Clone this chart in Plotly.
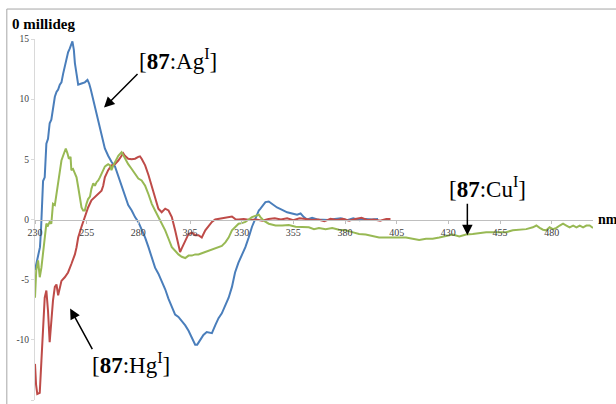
import plotly.graph_objects as go

# ---- data (wavelength nm, ellipticity millideg) ----
ag_nm = [230, 231, 232.4, 232.9, 233.4, 233.9, 234.7, 235.5, 236.3, 237.1, 237.9, 238.7, 239.6, 240.4,
         241.2, 242, 242.8, 243.6, 244.4, 245.2, 246, 246.8, 247.6, 248.1, 248.8, 249.3, 250.1, 250.9,
         252.5, 254.1, 255.4, 256.2, 257, 258.2, 259, 259.8, 260.6, 261.4, 262.2, 263, 263.8, 265.4,
         267, 268.7, 270.3, 271.9, 273.5, 275.1, 276.8, 278.4, 280, 281.6, 283.3, 284.9, 286.5, 288.1,
         289.7, 291.3, 293, 294.6, 296.2, 297.8, 299.4, 301, 302.7, 304.3, 305.9, 307.5, 308.5, 309.3,
         311.5, 313.1, 315.6, 317.2, 318.8, 320.4, 322, 323.7, 325.3, 326.8, 328.4, 330.1, 331.8, 333.4,
         335, 336.6, 338.3, 339.1, 341.5, 343.1, 344.7, 347.1, 349.6, 352, 354.4, 356.8, 358.5, 360.1,
         361.7, 364.1, 366.6, 369, 372, 375, 378, 381, 384, 387, 390, 393, 396]
ag_val = [-4.2, -3.3, -2.3, -0.9, 0.7, 3.2, 3.5, 6.3, 6.7, 8.0, 8.3, 9.4, 10.2, 10.6,
          10.8, 11.2, 11.4, 12.1, 12.7, 13.3, 13.9, 14.2, 14.6, 14.8, 14.1, 13.0, 12.1, 11.2,
          11.3, 11.4, 11.6, 11.3, 10.8, 9.9, 9.4, 8.9, 8.3, 7.6, 7.1, 6.4, 5.9, 5.3,
          4.8, 4.4, 3.6, 2.9, 2.0, 1.2, 0.75, 0.2, -0.2, -0.8, -1.5, -2.3, -3.1, -4.0,
          -4.5, -5.1, -5.8, -6.6, -7.3, -7.9, -8.1, -8.4, -8.8, -9.25, -9.8, -10.4, -10.4, -10.2,
          -9.6, -9.35, -9.45, -8.8, -8.2, -7.8, -7.2, -6.5, -5.6, -4.4, -3.6, -3.0, -2.3, -1.5,
          -0.6, 0.05, 0.75, 0.9, 1.45, 1.5, 1.3, 1.0, 0.8, 0.6, 0.5, 0.4, 0.5, 0.2,
          0.0, 0.15, 0.0, 0.0, -0.05, 0.05, 0.1, -0.05, 0.1, -0.05, 0.05, 0.0, 0.05]

hg_nm = [230, 230.5, 231.1, 232.3, 233.1, 233.9, 234.7, 235.5, 236.3, 237.1, 237.9, 238.7, 239.6, 240.4,
         241.2, 242, 242.8, 244.4, 246, 247.6, 249.3, 250.1, 250.9, 252.5, 254.1, 255.7, 257.3, 259,
         260.6, 262.2, 263, 263.8, 265.4, 267, 268.7, 270.3, 271.9, 272.7, 273.5, 275.1, 276.8, 278.4,
         280, 280.8, 281.6, 283.3, 284.9, 286.5, 288.1, 289.7, 291.3, 293, 294.6, 296.2, 297.8, 299.4,
         300.2, 301, 302.7, 304.3, 305.9, 307.5, 309.1, 310.7, 312.4, 314, 315.6, 317.2, 318.8, 320.4,
         322.1, 323.7, 325.3, 326.9, 328.5, 331, 334, 337, 340, 343, 346, 349, 352, 355, 358, 361, 364,
         367, 370, 373, 376, 379, 382, 385, 388, 391, 394, 397, 400, 402]
hg_val = [-12.0, -13.7, -14.5, -14.4, -11.75, -8.4, -6.5, -5.9, -7.6, -10.2, -8.4, -6.75, -5.6, -5.4,
          -6.3, -5.6, -5.1, -4.8, -4.4, -3.7, -2.9, -2.3, -1.5, -0.6, 0.2, 1.0, 1.6, 1.9,
          2.1, 2.4, 2.8, 3.5, 4.1, 4.5, 4.6, 4.9, 5.3, 5.5, 5.3, 5.05, 5.0, 5.05,
          5.2, 5.25, 5.05, 4.5, 3.7, 2.7, 1.7, 0.9, 0.6, 0.9, 0.75, 0.2, -0.9, -2.0,
          -2.7, -2.4, -1.75, -1.2, -1.1, -1.3, -1.3, -1.5, -0.9, -0.5, -0.2, 0.0, 0.05, 0.15,
          0.2, 0.25, 0.25, 0.03, 0.0, 0.05, -0.05, 0.0, -0.1, 0.05, 0.1, 0.0, 0.1, -0.05, 0.1, 0.05, -0.05,
          0.0, -0.15, 0.05, -0.05, 0.05, -0.1, 0.05, 0.15, -0.05, 0.0, -0.1, 0.05, 0.05]

cu_nm = [230, 230.6, 231.5, 232.3, 233.1, 233.9, 234.7, 235.5, 236.3, 237.1, 237.9, 238.3, 238.7, 239.6,
         240.4, 241.2, 242, 242.8, 243.6, 244.4, 244.9, 245.7, 246.4, 247.2, 247.6, 248.4, 249.3, 250.1,
         250.9, 251.7, 252.5, 253.3, 254.1, 254.9, 255.7, 256.6, 257.3, 258.2, 259, 259.8, 260.6, 261.4,
         262.2, 263, 263.8, 264.6, 265.4, 266.3, 267, 267.9, 268.7, 269.5, 270.3, 271.9, 273.5, 275.1,
         276.8, 278.4, 280, 281.6, 283.3, 284.9, 286.5, 288.1, 289.7, 291.3, 293, 294.6, 296.2, 297.8,
         299.4, 301, 302.7, 304.3, 305.9, 307.5, 309.1, 310.7, 312.4, 314, 315.6, 317.2, 318.8, 320.4,
         322.1, 323.7, 325.3, 326.9, 328.5, 330.1, 331.8, 333.4, 335, 336.6, 338.3, 339.1, 340.7, 343.1,
         346.4, 349.6, 352.8, 356.1, 359.3, 362.5, 365, 367.4, 370.6, 373.8, 377.1, 380.3, 383.5, 386.8,
         390, 393.3, 396.5, 399.8, 403, 406.2, 409.5, 412.7, 415.9, 419.2, 422.4, 425.6, 428.9, 432.1,
         435.3, 438.6, 441.8, 445, 448.3, 454.8, 458, 461.2, 464.5, 467.7, 470.9, 472.6, 474.2, 475.8,
         477.4, 479, 480.6, 482.3, 483.9, 485.5, 487.1, 488.7, 490.4, 492, 493.6, 495.2, 496.8, 498.4, 500]
cu_val = [-6.5, -4.25, -3.4, -4.8, -4.0, -2.6, -1.2, -0.35, -0.5, -0.2, -0.35, 0.75, 1.3, 1.2,
          2.1, 3.0, 4.1, 4.9, 5.3, 5.6, 5.9, 5.5, 5.05, 5.2, 4.1, 4.2, 3.8, 3.5,
          2.7, 1.9, 1.0, 0.75, 0.75, 1.3, 1.7, 1.9, 2.55, 3.0, 2.8, 3.1, 3.25, 3.5,
          3.8, 4.1, 4.4, 4.5, 4.6, 4.5, 4.1, 4.5, 4.8, 5.05, 5.3, 5.6, 5.05, 4.6,
          4.2, 3.8, 3.4, 3.25, 2.8, 2.1, 1.3, 0.75, 0.2, -0.35, -0.9, -1.6, -2.3, -2.6,
          -2.9, -3.1, -3.2, -3.0, -3.0, -2.9, -2.9, -2.8, -2.7, -2.6, -2.5, -2.4, -2.3, -2.2,
          -1.9, -1.5, -0.9, -0.6, -0.35, -0.3, -0.2, 0.0, 0.2, 0.3, 0.4, 0.2, -0.1, -0.35,
          -0.5, -0.5, -0.45, -0.6, -0.6, -0.65, -0.8, -0.7, -0.8, -0.7, -0.85, -0.9, -1.05, -1.2,
          -1.25, -1.4, -1.5, -1.5, -1.5, -1.5, -1.5, -1.6, -1.7, -1.6, -1.6, -1.5, -1.4, -1.25,
          -1.4, -1.25, -1.2, -1.1, -1.05, -1.05, -1.05, -0.9, -0.85, -0.8, -0.65, -0.5, -0.7, -0.85,
          -0.9, -0.65, -0.8, -0.7, -0.5, -0.35, -0.5, -0.65, -0.5, -0.65, -0.5, -0.65, -0.5, -0.5, -0.7]

x_ticks = [230, 255, 280, 305, 330, 355, 380, 405, 430, 455, 480]
x_tick_text = ["230", "255", "280", "305", "330", "355", "380", "405", "430", "455", "480"]
y_ticks = [-15, -10, -5, 0, 5, 10, 15]
y_tick_text = ["-15", "-10", "-5", "0", "5", "10", "15"]

BLUE = "#4A7EBB"
RED = "#BE4B48"
GREEN = "#98B954"

fig = go.Figure()
fig.add_trace(go.Scatter(x=ag_nm, y=ag_val, mode="lines", line=dict(color=BLUE, width=2), name="87:Ag"))
fig.add_trace(go.Scatter(x=hg_nm, y=hg_val, mode="lines", line=dict(color=RED, width=2), name="87:Hg"))
fig.add_trace(go.Scatter(x=cu_nm, y=cu_val, mode="lines", line=dict(color=GREEN, width=2), name="87:Cu"))

serif = "Liberation Serif, Times New Roman, serif"

fig.update_layout(
    width=616, height=404,
    margin=dict(l=35, r=23, t=39, b=4),
    paper_bgcolor="white", plot_bgcolor="white",
    showlegend=False,
    xaxis=dict(range=[230, 500], tickvals=x_ticks, ticktext=x_tick_text,
               showgrid=False, zeroline=False, showline=True, linecolor="#BFBFBF", linewidth=1,
               ticks="outside", ticklen=3, tickcolor="#BFBFBF",
               anchor="free", position=0.5,
               tickfont=dict(family=serif, size=10, color="#404040")),
    yaxis=dict(range=[-15, 15], tickvals=y_ticks, ticktext=y_tick_text,
               showgrid=False, zeroline=False, showline=True, linecolor="#D9D9D9", linewidth=1,
               ticks="outside", ticklen=3, tickcolor="#D9D9D9",
               tickfont=dict(family=serif, size=9.5, color="#404040")),
    shapes=[
        dict(type="line", xref="paper", yref="paper", x0=-0.0505, x1=1.1, y0=1.083, y1=1.083,
             line=dict(color="#A6A6A6", width=1), layer="above"),
        dict(type="line", xref="paper", yref="paper", x0=-0.0505, x1=-0.0505, y0=-0.1, y1=1.083,
             line=dict(color="#A6A6A6", width=1), layer="above"),
    ],
)

big = dict(family=serif, size=23, color="black")
annos = [
    dict(x=299, y=13.3, text="[<b>87</b>:Ag<sup>I</sup>]", showarrow=False, font=big),
    dict(x=276.5, y=-12.0, text="[<b>87</b>:Hg<sup>I</sup>]", showarrow=False, font=big),
    dict(x=449, y=2.7, text="[<b>87</b>:Cu<sup>I</sup>]", showarrow=False, font=big),
    # arrows
    dict(x=263.4, y=9.3, ax=35, ay=-35, text="", showarrow=True, arrowhead=2, arrowsize=1.4,
         arrowwidth=1.5, arrowcolor="black"),
    dict(x=247, y=-7.4, ax=23, ay=42, text="", showarrow=True, arrowhead=2, arrowsize=1.4,
         arrowwidth=1.5, arrowcolor="black"),
    dict(x=439.2, y=-1.3, ax=0, ay=-33, text="", showarrow=True, arrowhead=2, arrowsize=1.4,
         arrowwidth=1.5, arrowcolor="black"),
    # axis titles
    dict(xref="paper", yref="y", x=1.005, y=0, xanchor="left", yanchor="middle",
         text="<b>nm</b>", showarrow=False, font=dict(family=serif, size=14, color="black")),
    dict(xref="paper", yref="paper", x=-0.045, y=1.042, xanchor="left", yanchor="middle",
         text="<b>0 millideg</b>", showarrow=False, font=dict(family=serif, size=15, color="black")),
]
fig.update_layout(annotations=annos)

fig.write_html("out.html", config={"displayModeBar": False},
               post_script="document.body.style.margin='0';document.body.style.padding='0';")
